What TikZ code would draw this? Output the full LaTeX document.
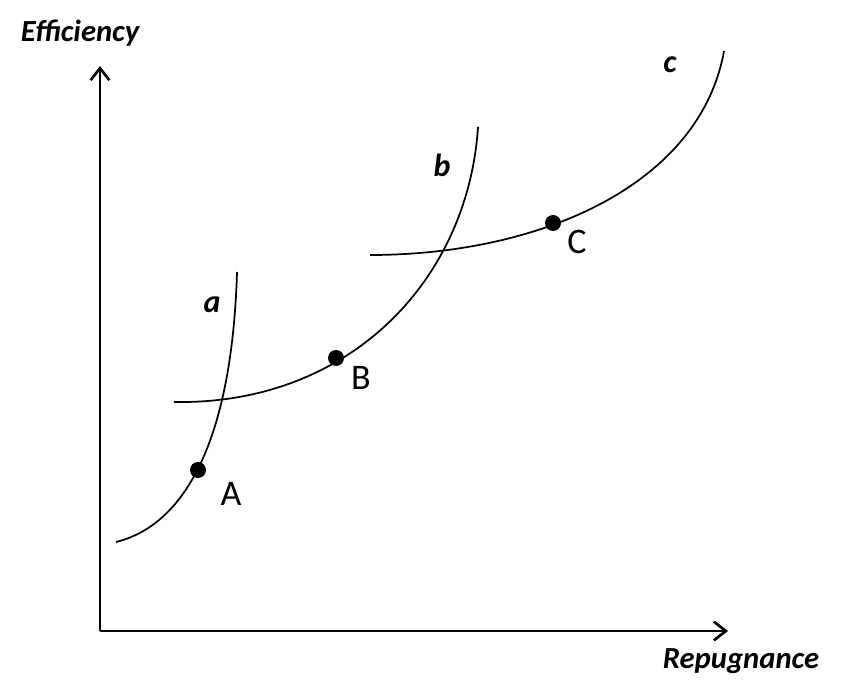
\documentclass[tikz,border=0pt]{standalone}
\usepackage{fontspec}
\setmainfont{Carlito}
\usetikzlibrary{arrows.meta}
\begin{document}
\begin{tikzpicture}[x=0.75pt,y=-0.75pt,
  axis/.style={line width=2pt,-{Straight Barb[length=9pt,width=14pt,line width=2pt]}},
  curve/.style={line width=1.3pt},
  dot/.style={circle,fill=black,inner sep=0pt,minimum size=12pt},
  axlabel/.style={font=\fontsize{23}{26}\selectfont\bfseries\itshape},
  curvelabel/.style={font=\fontsize{24}{27}\selectfont\bfseries\itshape},
  ptlabel/.style={font=\fontsize{27}{31}\selectfont}]
\useasboundingbox (0,0) rectangle (841,680);
\coordinate (O) at (100,631);
\coordinate (ytip) at (100,66);
\coordinate (xtip) at (728,631);
\draw[axis] (O) -- (ytip);
\draw[axis] (O) -- (xtip);
\node[axlabel] (eff) at (80,33) {Efficiency};
\node[axlabel] (rep) at (741,661) {Repugnance};
% curve a
\draw[curve] (116,542) .. controls (185,525) and (232,440) .. (237,272);
% curve b
\draw[curve] (174,402) .. controls (350,405) and (468,280) .. (478,127);
% curve c
\draw[curve] (370,255) .. controls (540,255) and (700,185) .. (724,51);
\node[dot] (A) at (198,470) {};
\node[dot] (B) at (336,358) {};
\node[dot] (C) at (553,223) {};
\node[ptlabel] (lA) at (231,494) {A};
\node[ptlabel] (lB) at (361,378) {B};
\node[ptlabel] (lC) at (577,242) {C};
\node[curvelabel] (la) at (212,305) {a};
\node[curvelabel] (lb) at (442,165) {b};
\node[curvelabel] (lc) at (670,65) {c};
\end{tikzpicture}
\end{document}
